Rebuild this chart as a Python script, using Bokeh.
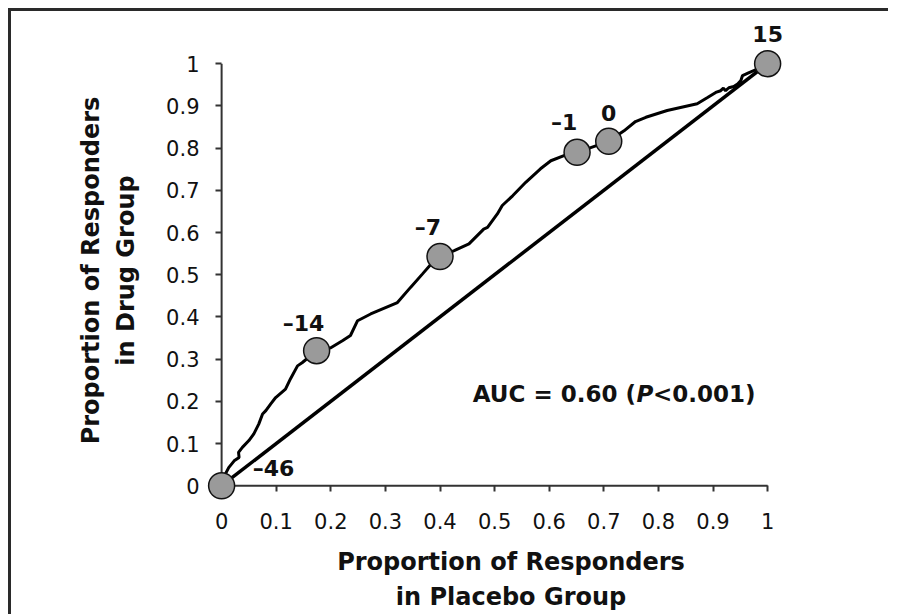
from bokeh.plotting import figure
from bokeh.models import ColumnDataSource, Label, FixedTicker, Range1d
from bokeh.embed import file_html
from bokeh.resources import INLINE
from bokeh.core.properties import value

# ---- data ----
curve_x = [0.0, 0.007, 0.013, 0.023, 0.032, 0.031, 0.038, 0.050, 0.059, 0.068,
           0.075, 0.081, 0.090, 0.099, 0.117, 0.126, 0.139, 0.148, 0.174, 0.200,
           0.222, 0.236, 0.249, 0.273, 0.322, 0.346, 0.368, 0.383, 0.400, 0.426,
           0.453, 0.480, 0.487, 0.505, 0.514, 0.533, 0.557, 0.584, 0.603, 0.627,
           0.651, 0.709, 0.737, 0.758, 0.777, 0.816, 0.871, 0.890, 0.905, 0.914,
           0.919, 0.923, 0.929, 0.938, 0.945, 0.951, 0.954, 0.966, 0.981, 1.0]
curve_y = [0.0, 0.028, 0.043, 0.059, 0.067, 0.079, 0.091, 0.107, 0.123, 0.146,
           0.170, 0.178, 0.194, 0.209, 0.229, 0.253, 0.284, 0.292, 0.320, 0.327,
           0.344, 0.356, 0.391, 0.407, 0.434, 0.470, 0.502, 0.524, 0.543, 0.557,
           0.573, 0.608, 0.612, 0.644, 0.664, 0.687, 0.719, 0.751, 0.770, 0.782,
           0.790, 0.816, 0.841, 0.863, 0.873, 0.889, 0.905, 0.920, 0.932, 0.936,
           0.942, 0.936, 0.943, 0.946, 0.952, 0.960, 0.972, 0.979, 0.987, 1.0]

ref_x = [0.0, 1.0]
ref_y = [0.0, 1.0]

point_x = [0.0, 0.174, 0.400, 0.651, 0.709, 1.0]
point_y = [0.0, 0.320, 0.543, 0.790, 0.816, 1.0]
point_labels = ["\u201346", "\u201314", "\u20137", "\u20131", "0", "15"]

tick_values = [0, 0.1, 0.2, 0.3, 0.4, 0.5, 0.6, 0.7, 0.8, 0.9, 1]
tick_labels = ["0", "0.1", "0.2", "0.3", "0.4", "0.5", "0.6", "0.7", "0.8", "0.9", "1"]

auc_text = "AUC = 0.60 ("
p_text = "P"
p_value_text = "<0.001)"

x_title = "Proportion of Responders\nin Placebo Group"
y_title = "Proportion of Responders\nin Drug Group"

# ---- styles ----
FONT = "DejaVu Sans"
INK = "#111111"
AXIS = "#333333"
label_dx = [52, -13, -12, -13, 0, 0]
label_dy = [-17, -27, -29, -30, -28, -30]

p = figure(width=880, height=606,
           x_range=Range1d(-0.035, 1.095), y_range=Range1d(-0.08, 1.10),
           output_backend="svg", toolbar_location=None,
           min_border_left=194, min_border_right=69,
           min_border_top=13, min_border_bottom=95)
p.styles = {"margin-top": "8px", "margin-left": "8px",
            "box-shadow": "inset 3px 3px 0 0 #2a2a2a"}
p.outline_line_color = None
p.xgrid.grid_line_color = None
p.ygrid.grid_line_color = None
p.background_fill_color = None
p.border_fill_color = None

for ax in (p.xaxis, p.yaxis):
    ax.ticker = FixedTicker(ticks=tick_values)
    ax.major_label_overrides = {v: t for v, t in zip(tick_values, tick_labels)}
    ax.axis_line_color = None
    ax.minor_tick_line_color = None
    ax.minor_tick_in = 0
    ax.minor_tick_out = 0
    ax.major_tick_line_width = 2
    ax.major_tick_line_color = AXIS
    ax.major_label_text_font = FONT
    ax.major_label_text_font_size = "21px"
    ax.major_label_text_color = INK
    ax.axis_label_text_font = FONT
    ax.axis_label_text_font_style = "bold"
    ax.axis_label_text_font_size = "24px"
    ax.axis_label_text_color = INK
    ax.axis_label_text_line_height = 1.25

# ticks sit on the x=0 / y=0 lines, which lie inside the padded frame
p.yaxis.major_tick_in = 19
p.yaxis.major_tick_out = -13
p.yaxis.major_label_standoff = 3
p.xaxis.major_tick_in = 34
p.xaxis.major_tick_out = -28
p.xaxis.major_label_standoff = -7

p.xaxis.axis_label = x_title
p.yaxis.axis_label = y_title
p.xaxis.axis_label_standoff = 16
p.yaxis.axis_label_standoff = 23

# axis rules along x=0 and y=0
t0, t1 = tick_values[0], tick_values[-1]
p.segment(x0=[t0, t0], y0=[t0, t0], x1=[t1, t0], y1=[t0, t1],
          line_color=AXIS, line_width=2)

p.line(ref_x, ref_y, line_color="black", line_width=3.5)
p.line(curve_x, curve_y, line_color="black", line_width=3)

src = ColumnDataSource(dict(x=point_x, y=point_y, label=point_labels,
                            dx=label_dx, dy=label_dy))
pts = p.scatter("x", "y", source=src, size=26, fill_color="#9a9a9a",
                line_color=INK, line_width=1.5)
pts.level = "overlay"
txt = p.text("x", "y", text="label", source=src, x_offset="dx", y_offset="dy",
             text_font=value(FONT), text_font_style="bold", text_font_size="22px",
             text_align="center", text_baseline="alphabetic", text_color=INK)
txt.level = "overlay"

common = dict(y=0.218, text_font=FONT, text_font_size="23px",
              text_color=INK, text_baseline="alphabetic", text_align="left")
p.add_layout(Label(x=0.460, text=auc_text, text_font_style="bold", **common))
p.add_layout(Label(x=0.760, text=p_text, text_font_style="bold italic", **common))
p.add_layout(Label(x=0.790, text=p_value_text, text_font_style="bold", **common))

open("out.html", "w").write(file_html(p, INLINE))
